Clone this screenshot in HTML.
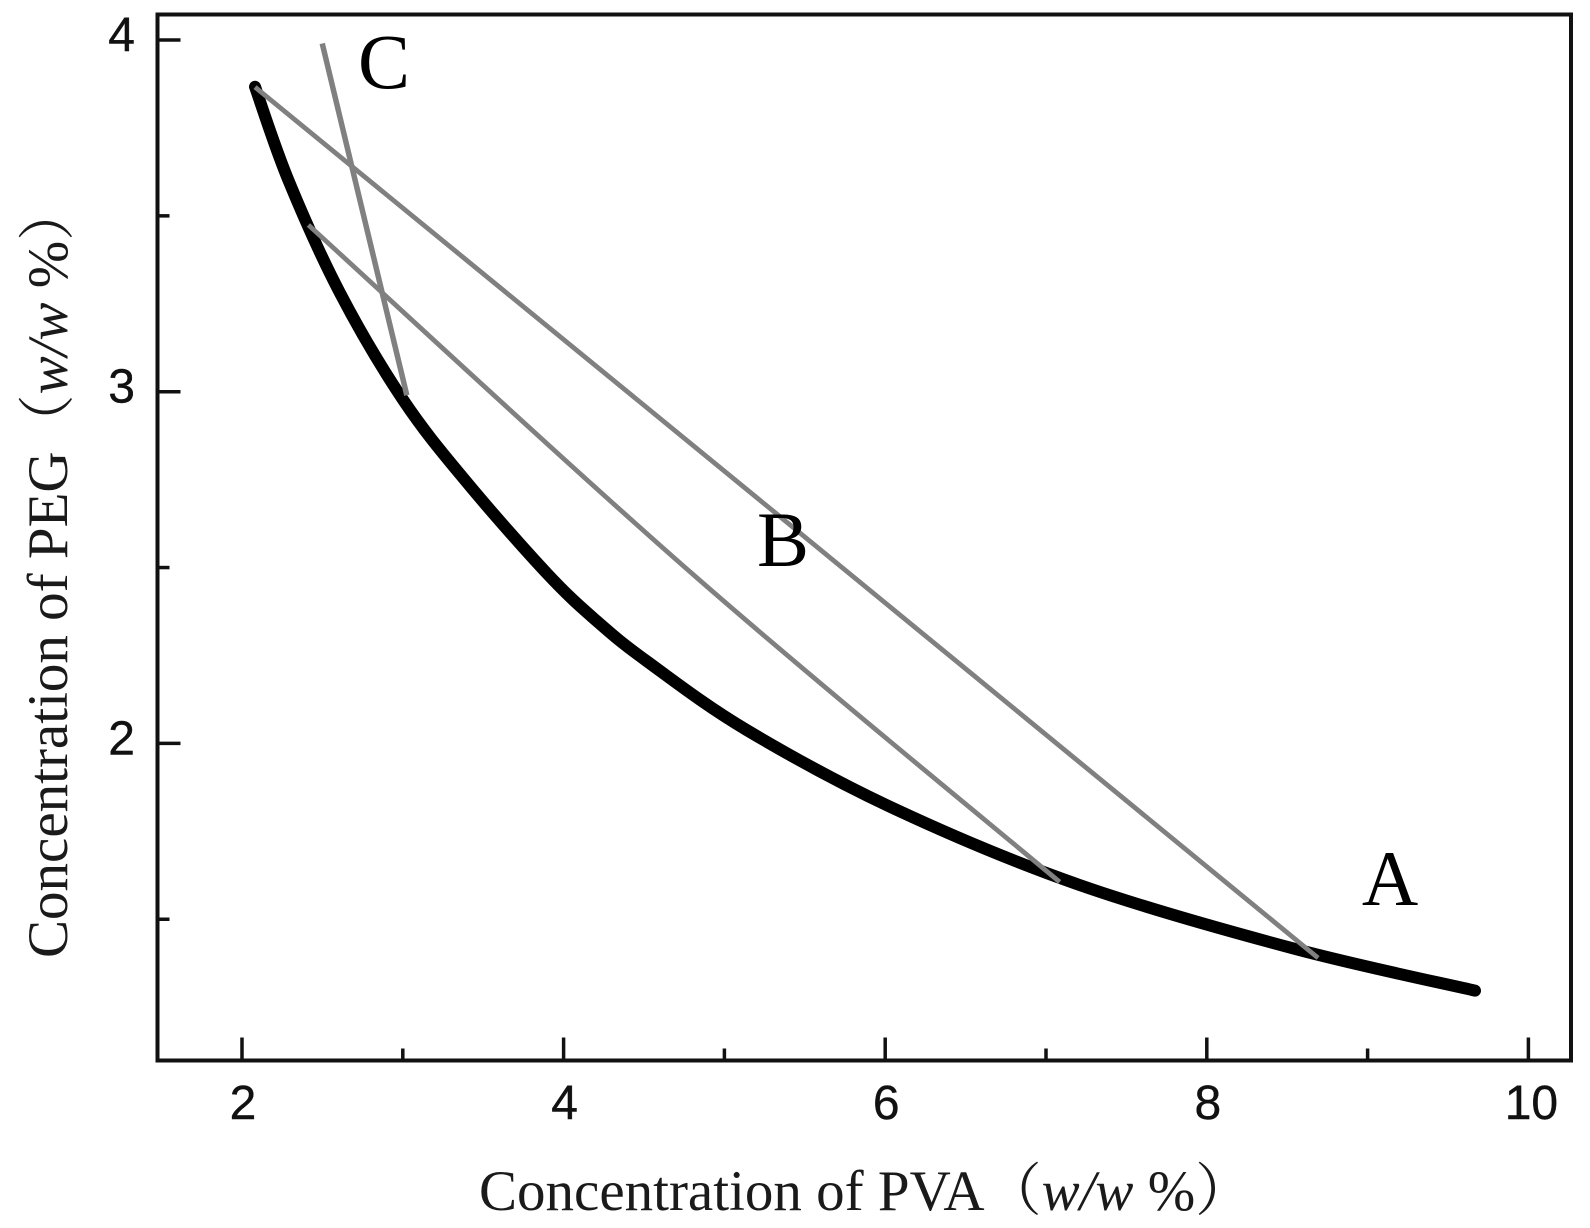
<!DOCTYPE html>
<html lang="en">
<head>
<meta charset="utf-8">
<title>PVA-PEG phase diagram</title>
<style>
html,body{margin:0;padding:0;background:#fff;width:1590px;height:1228px;overflow:hidden}
svg{display:block}
.tick-label{font-family:"Liberation Sans",sans-serif;font-size:48px;fill:#111;stroke:#111;stroke-width:.4}
.axis-title{font-family:"Liberation Serif","Noto Serif CJK SC",serif;font-size:57px;fill:#1a1a1a}
.region{font-family:"Liberation Serif",serif;font-size:78px;fill:#000}
</style>
</head>
<body>
<svg id="chart" xmlns="http://www.w3.org/2000/svg" width="1590" height="1228" viewBox="0 0 1590 1228">
  <rect width="1590" height="1228" fill="#fff"/>
  <g id="marks"></g>
  <g id="axes"></g>
  <rect x="157.5" y="14.5" width="1413.5" height="1046" fill="none" stroke="#111" stroke-width="4"/>
  <text class="axis-title" x="479" y="1210">Concentration of PVA（<tspan font-style="italic">w/w</tspan> %）</text>
  <text class="axis-title" transform="translate(67,958) rotate(-90)">Concentration of PEG（<tspan font-style="italic">w/w</tspan> %）</text>
  <text class="region" x="1390" y="905" text-anchor="middle">A</text>
  <text class="region" x="783" y="566" text-anchor="middle">B</text>
  <text class="region" x="384" y="88" text-anchor="middle">C</text>
</svg>
<script>
const binodalPva = [2.081, 2.288, 2.609, 3.003, 3.397, 3.895, 4.206, 4.517, 5.139, 6.071, 7.211, 8.538, 9.668];
const binodalPeg = [3.867, 3.602, 3.281, 2.976, 2.743, 2.484, 2.348, 2.234, 2.038, 1.811, 1.597, 1.417, 1.297];
const tieLinePvaTop = [2.081, 5.305, 8.692];
const tieLinePegTop = [3.866, 2.66, 1.39];
const tieLinePvaMiddle = [2.413, 4.806, 7.085];
const tieLinePegMiddle = [3.474, 2.48, 1.606];
const tieLinePvaC = [2.499, 3.025];
const tieLinePegC = [3.99, 2.99];
const xMajorTicks = [2, 4, 6, 8, 10];
const xMinorTicks = [3, 5, 7, 9];
const yMajorTicks = [2, 3, 4];
const yMinorTicks = [1.5, 2.5, 3.5];

const NS = 'http://www.w3.org/2000/svg';
const marks = document.getElementById('marks');
const axes = document.getElementById('axes');
const xScale = v => 242 + (v - 2) * 160.8;
const yScale = v => 40 + (4 - v) * 351.7;
const FRAME_LEFT = 157.5;
const FRAME_BOTTOM = 1060.5;

function smoothPath(xs, ys) {
  const p = xs.map((x, i) => [xScale(x), yScale(ys[i])]);
  let d = 'M' + p[0][0].toFixed(2) + ' ' + p[0][1].toFixed(2);
  for (let i = 0; i < p.length - 1; i++) {
    const a = p[Math.max(i - 1, 0)], b = p[i], c = p[i + 1], e = p[Math.min(i + 2, p.length - 1)];
    const c1x = b[0] + (c[0] - a[0]) / 6, c1y = b[1] + (c[1] - a[1]) / 6;
    const c2x = c[0] - (e[0] - b[0]) / 6, c2y = c[1] - (e[1] - b[1]) / 6;
    d += 'C' + c1x.toFixed(2) + ' ' + c1y.toFixed(2) + ' ' + c2x.toFixed(2) + ' ' + c2y.toFixed(2) + ' ' + c[0].toFixed(2) + ' ' + c[1].toFixed(2);
  }
  return d;
}

function makePath(xs, ys, color, width, cap) {
  const el = document.createElementNS(NS, 'path');
  el.setAttribute('d', smoothPath(xs, ys));
  el.setAttribute('fill', 'none');
  el.setAttribute('stroke', color);
  el.setAttribute('stroke-width', width);
  el.setAttribute('stroke-linecap', cap);
  el.setAttribute('stroke-linejoin', 'round');
  marks.appendChild(el);
  return el;
}

const binodal = makePath(binodalPva, binodalPeg, '#000', 12, 'round');



const tieTop = makePath(tieLinePvaTop, tieLinePegTop, '#808080', 4.8, 'butt');



const tieMiddle = makePath(tieLinePvaMiddle, tieLinePegMiddle, '#808080', 4.8, 'butt');



const tieC = makePath(tieLinePvaC, tieLinePegC, '#808080', 5.5, 'butt');



function makeTick(x1, y1, x2, y2) {
  const t = document.createElementNS(NS, 'line');
  t.setAttribute('x1', x1);
  t.setAttribute('y1', y1);
  t.setAttribute('x2', x2);
  t.setAttribute('y2', y2);
  t.setAttribute('stroke', '#111');
  t.setAttribute('stroke-width', '3.5');
  axes.appendChild(t);
  return t;
}

function makeLabel(x, y, anchor, str) {
  const t = document.createElementNS(NS, 'text');
  t.setAttribute('class', 'tick-label');
  t.setAttribute('x', x);
  t.setAttribute('y', y);
  t.setAttribute('text-anchor', anchor);
  t.textContent = str;
  axes.appendChild(t);
  return t;
}

xMajorTicks.forEach(v => {
  const tick = makeTick(xScale(v), FRAME_BOTTOM, xScale(v), FRAME_BOTTOM - 23);
  
  
  const label = makeLabel(xScale(v) + (v === 10 ? 3 : 1), 1119, 'middle', String(v));
  
  
});
xMinorTicks.forEach(v => {
  const tick = makeTick(xScale(v), FRAME_BOTTOM, xScale(v), FRAME_BOTTOM - 12);
  
  
});
yMajorTicks.forEach(v => {
  const tick = makeTick(FRAME_LEFT, yScale(v), FRAME_LEFT + 23, yScale(v));
  
  
  const label = makeLabel(135, yScale(v) + 11, 'end', String(v));
  
  
});
yMinorTicks.forEach(v => {
  const tick = makeTick(FRAME_LEFT, yScale(v), FRAME_LEFT + 12, yScale(v));
  
  
});
</script>
</body>
</html>
